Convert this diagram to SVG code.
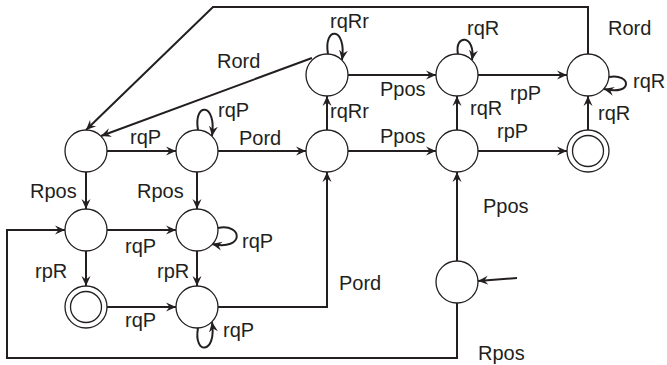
<svg xmlns="http://www.w3.org/2000/svg" width="667" height="365" viewBox="0 0 667 365">
<defs>
<marker id="arr" viewBox="0 0 10 10" refX="10" refY="5" markerWidth="10" markerHeight="10" markerUnits="userSpaceOnUse" orient="auto">
<path d="M0,0.5 L10,5 L0,9.5 L3.5,5 z" fill="#231f20"/>
</marker>
</defs>
<style>
.n{fill:#fff;stroke:#231f20;stroke-width:1.3}
.e{fill:none;stroke:#231f20;stroke-width:2}
.a{marker-end:url(#arr)}
text{font-family:"Liberation Sans",Arial,sans-serif;font-size:20px;fill:#231f20}
</style>
<rect width="667" height="365" fill="#fff"/>
<g id="connectors">
<path class="e a" d="M107,151 L176,151"/>
<path class="e a" d="M218,151 L306,151"/>
<path class="e a" d="M327,130 L327,96"/>
<path class="e a" d="M348,75 L436,75"/>
<path class="e a" d="M478,75 L567,75"/>
<path class="e a" d="M348,151 L436,151"/>
<path class="e a" d="M478,151 L567,151"/>
<path class="e a" d="M457,130 L457,96"/>
<path class="e a" d="M588,130 L588,96"/>
<path class="e a" d="M86,172 L86,209"/>
<path class="e a" d="M197,172 L197,209"/>
<path class="e a" d="M107,230 L176,230"/>
<path class="e a" d="M86,251 L86,286"/>
<path class="e a" d="M197,251 L197,286"/>
<path class="e a" d="M107,307 L176,307"/>
<path class="e a" d="M457,261 L457,172"/>
<path class="e a" d="M218,307 L327,307 L327,172"/>
<path class="e a" d="M457,303 L457,358 L7,358 L7,230 L65,230"/>
<path class="e a" d="M588,54 L588,7 L213,7 L86,130"/>
<path class="e a" d="M312,58 L101,136"/>
<path class="e a" d="M517,278 L478,281"/>
<path class="e a" d="M198,130 C193,102 217,102 212,136"/>
<path class="e a" d="M328,54 C323,26 347,26 342,60"/>
<path class="e a" d="M458,54 C454,34 476,34 472,60"/>
<path class="e a" d="M609,77 C631,73 634,96 604,89"/>
<path class="e a" d="M218,228 C243,223 245,251 212,244"/>
<path class="e a" d="M198,328 C193,355 217,355 212,322"/>
</g>
<g id="A"><circle class="n" cx="86" cy="151" r="21"/></g>
<g id="B"><circle class="n" cx="197" cy="151" r="21"/></g>
<g id="C"><circle class="n" cx="327" cy="151" r="21"/></g>
<g id="D"><circle class="n" cx="327" cy="75" r="21"/></g>
<g id="E"><circle class="n" cx="457" cy="75" r="21"/></g>
<g id="F"><circle class="n" cx="457" cy="151" r="21"/></g>
<g id="G"><circle class="n" cx="588" cy="75" r="21"/></g>
<g id="H"><circle class="n" cx="588" cy="151" r="21"/><circle class="n" cx="588" cy="151" r="15.5"/></g>
<g id="I"><circle class="n" cx="86" cy="230" r="21"/></g>
<g id="J"><circle class="n" cx="197" cy="230" r="21"/></g>
<g id="K"><circle class="n" cx="86" cy="307" r="21"/><circle class="n" cx="86" cy="307" r="15.5"/></g>
<g id="L"><circle class="n" cx="197" cy="307" r="21"/></g>
<g id="M"><circle class="n" cx="457" cy="282" r="21"/></g>
<g id="labels">
<text x="217" y="68">Rord</text>
<text x="218" y="117">rqP</text>
<text x="130" y="144">rqP</text>
<text x="239" y="145">Pord</text>
<text x="30" y="198">Rpos</text>
<text x="137" y="198">Rpos</text>
<text x="125" y="253">rqP</text>
<text x="35" y="278">rpR</text>
<text x="157" y="278">rpR</text>
<text x="242" y="248">rqP</text>
<text x="125" y="327">rqP</text>
<text x="223" y="337">rqP</text>
<text x="339" y="290">Pord</text>
<text x="483" y="213">Ppos</text>
<text x="478" y="360">Rpos</text>
<text x="330" y="28">rqRr</text>
<text x="467" y="35">rqR</text>
<text x="608" y="35">Rord</text>
<text x="380" y="96">Ppos</text>
<text x="633" y="88">rqR</text>
<text x="470" y="115">rqR</text>
<text x="510" y="100">rpP</text>
<text x="330" y="118">rqRr</text>
<text x="380" y="143">Ppos</text>
<text x="497" y="138">rpP</text>
<text x="598" y="120">rqR</text>
</g>
</svg>
